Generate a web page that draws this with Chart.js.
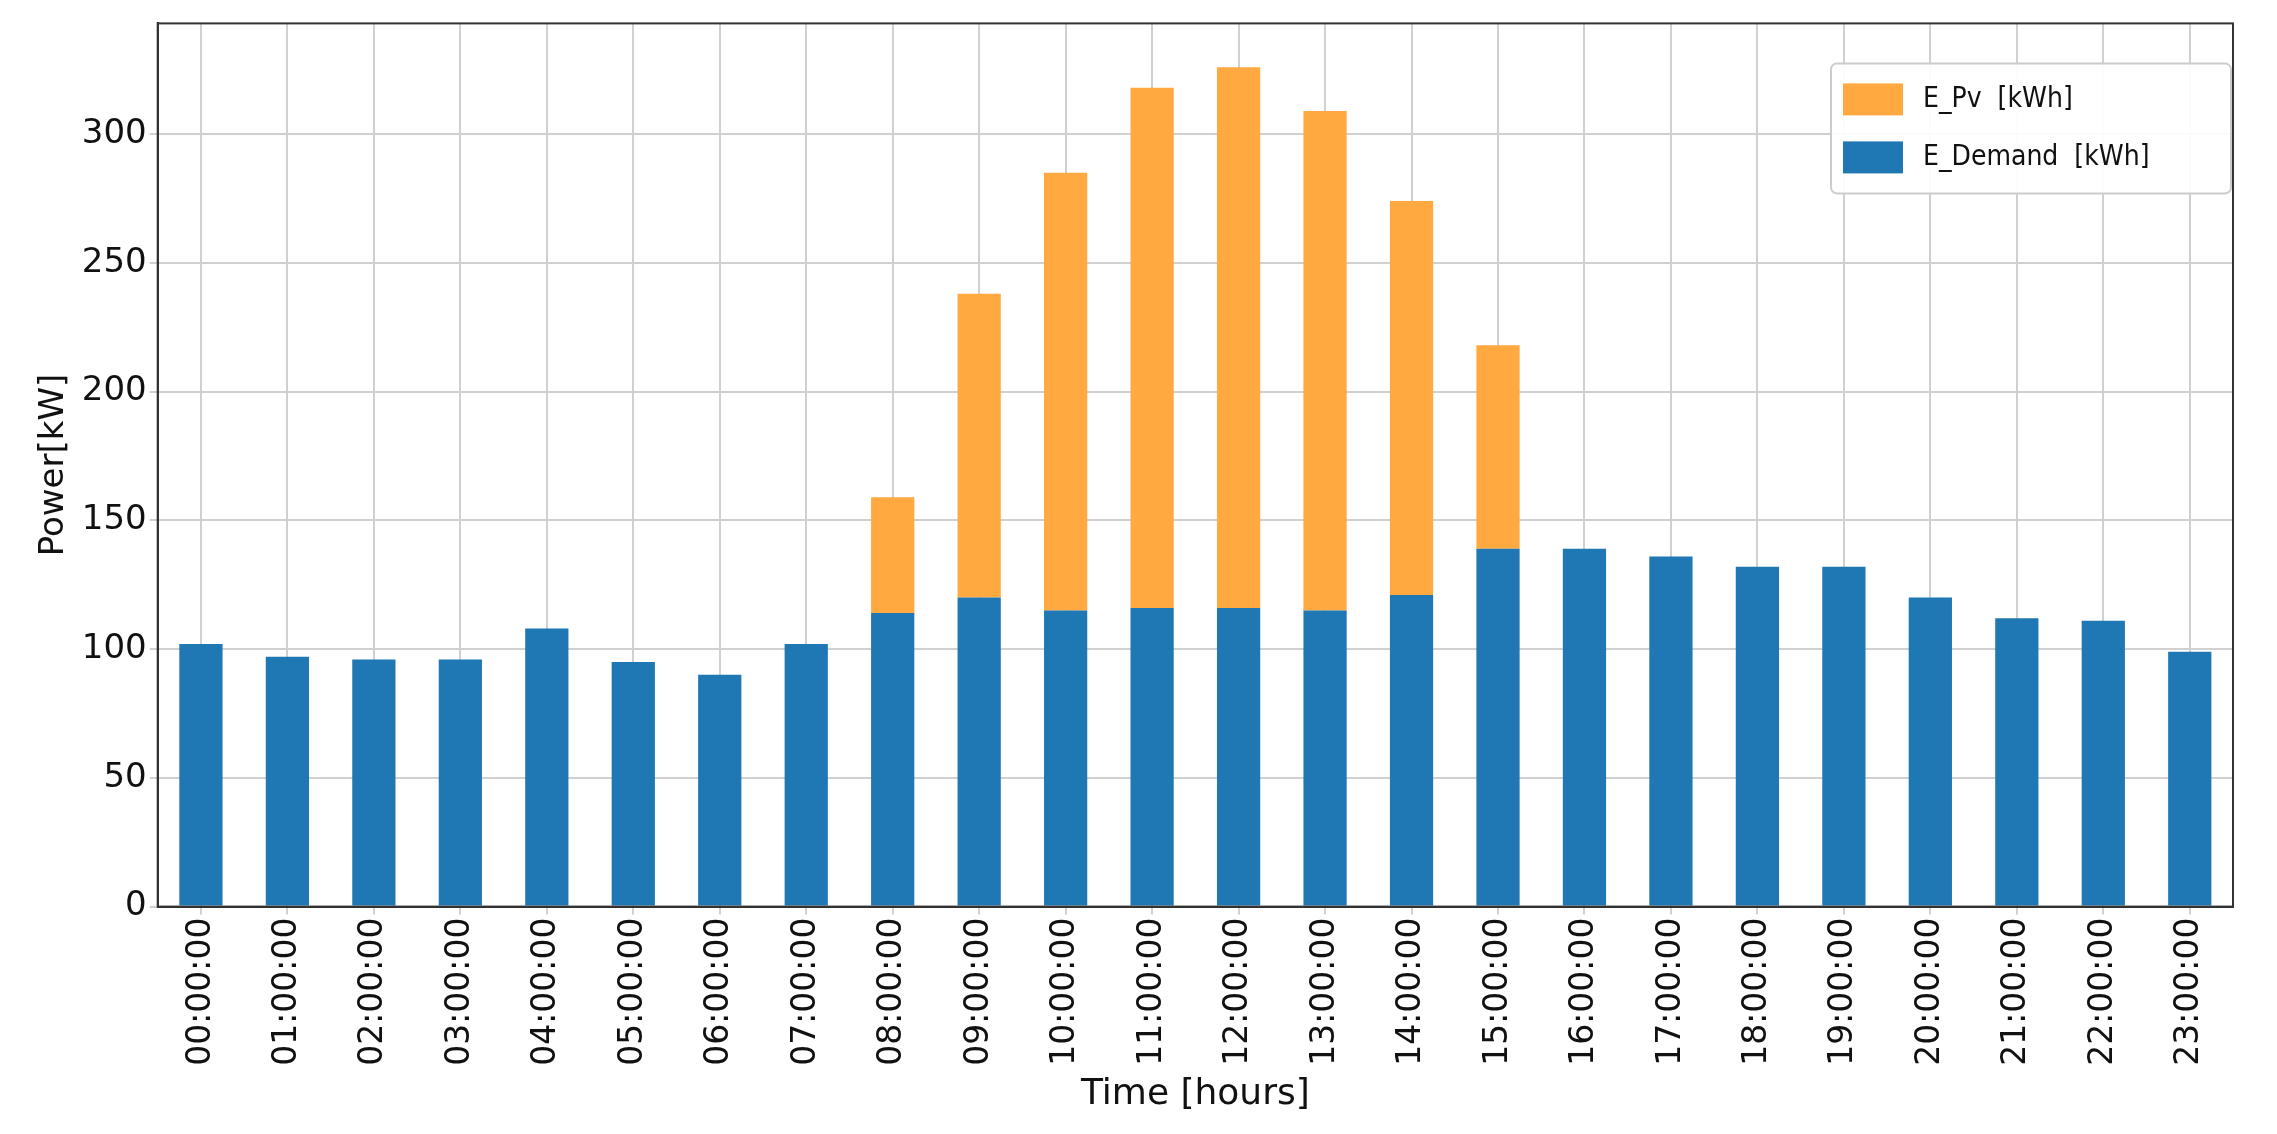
<!DOCTYPE html>
<html><head><meta charset="utf-8">
<script src="https://cdn.jsdelivr.net/npm/chart.js@4"></script>
<style>html,body{margin:0;background:#fff}#w{width:2277px;height:1134px}</style>
</head><body><div id="w"><canvas id="c"></canvas></div>
<script>
const categories = ["00:00:00","01:00:00","02:00:00","03:00:00","04:00:00","05:00:00","06:00:00","07:00:00","08:00:00","09:00:00","10:00:00","11:00:00","12:00:00","13:00:00","14:00:00","15:00:00","16:00:00","17:00:00","18:00:00","19:00:00","20:00:00","21:00:00","22:00:00","23:00:00"];
const demand = [102,97,96,96,108,95,90,102,114,120,115,116,116,115,121,139,139,136,132,132,120,112,111,99];
const pv = [0,0,0,0,0,0,0,0,45,118,170,202,210,194,153,79,0,0,0,0,0,0,0,0];
const yTicks = [0,50,100,150,200,250,300];

const legendIn = {id:'legendIn', afterDraw(ch){
  const ctx=ch.ctx, a=ch.chartArea;
  const items=[...ch.data.datasets].reverse();
  const w=400,h=130,x=a.right-w-2,y=a.top+40;
  ctx.save();
  ctx.fillStyle='rgba(255,255,255,0.92)';ctx.strokeStyle='#ccc';ctx.lineWidth=2;
  ctx.beginPath();ctx.roundRect(x,y,w,h,6);ctx.fill();ctx.stroke();
  ctx.font='28px "Liberation Sans Narrow", "DejaVu Sans Condensed", sans-serif';ctx.textBaseline='middle';
  items.forEach((d,i)=>{const cy=y+36+i*58;ctx.fillStyle=d.backgroundColor;ctx.fillRect(x+12,cy-16,60,32);
    ctx.fillStyle='#111';ctx.fillText(d.label,x+92,cy);});
  ctx.restore();
}};
new Chart(document.getElementById('c'),{type:'bar',
 data:{labels:categories,datasets:[
  {label:'E_Demand  [kWh]',data:demand,backgroundColor:'#1f77b4',categoryPercentage:1,barPercentage:0.5},
  {label:'E_Pv  [kWh]',data:pv,backgroundColor:'#ffa940',categoryPercentage:1,barPercentage:0.5}]},
 options:{responsive:true,maintainAspectRatio:false,animation:false,
  layout:{padding:{left:30,top:4,right:44,bottom:14}},
  plugins:{legend:{display:false},tooltip:{enabled:false}},
  scales:{
   x:{stacked:true,grid:{color:'#d0d0d0',lineWidth:2,offset:false,drawTicks:true,tickLength:8},border:{color:'#333',width:2},
      ticks:{maxRotation:90,minRotation:90,color:'#111',font:{size:33,family:'DejaVu Sans'}},
      title:{display:true,text:'Time [hours]',color:'#111',font:{size:36,family:'DejaVu Sans'}}},
   y:{stacked:true,min:0,max:343,afterBuildTicks(s){s.ticks=yTicks.map(v=>({value:v}));},
      grid:{color:'#d0d0d0',lineWidth:2,tickLength:8},border:{color:'#333',width:2},
      ticks:{color:'#111',font:{size:34,family:'DejaVu Sans'}},
      title:{display:true,text:'Power[kW]',color:'#111',font:{size:34,family:'DejaVu Sans'}}}
  }},
 plugins:[legendIn,{id:'frame',afterDraw(ch){const a=ch.chartArea,c=ch.ctx;c.save();c.strokeStyle='#333';c.lineWidth=2;c.strokeRect(a.left,a.top,a.right-a.left,a.bottom-a.top);c.restore();}}]
});
</script></body></html>
